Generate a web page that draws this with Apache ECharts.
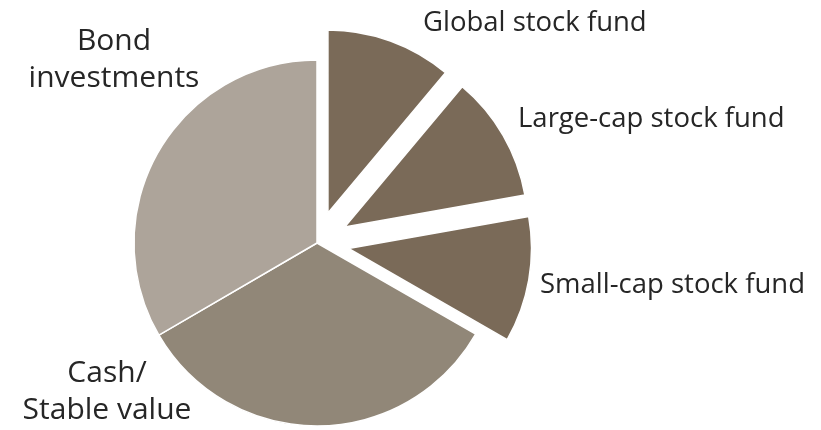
<!DOCTYPE html>
<html>
<head>
<meta charset="utf-8">
<script src="https://cdn.jsdelivr.net/npm/echarts@6/dist/echarts.min.js"></script>
<style>
  html, body { margin: 0; padding: 0; background: #fff; }
  #chart { width: 821px; height: 430px; }
</style>
</head>
<body>
<div id="chart"></div>
<script>
// Portfolio allocation (share of total, %)
const categories = [
  'Global stock fund',
  'Large-cap stock fund',
  'Small-cap stock fund',
  'Cash/\nStable value',
  'Bond\ninvestments'
];
const shares = [11.1, 11.1, 11.1, 33.3, 33.4];
const exploded = [true, true, true, false, false];

const sliceColors = ['#7a6a58', '#7a6a58', '#7a6a58', '#918778', '#ada49a'];

// Label anchor per slice: [x, y, align, font size]
const labelSpots = [
  [423, 23, 'left', 27.5],
  [518, 119, 'left', 27.5],
  [540, 285, 'left', 27.5],
  [107, 392, 'center', 30],
  [114, 60, 'center', 30]
];

const chart = echarts.init(document.getElementById('chart'), null, { renderer: 'canvas' });

const pieCenter = [317, 243];
const pieRadius = 183;

// Visible slices, with the stock funds pulled out
const sliceData = categories.map((name, i) => ({
  name: name,
  value: shares[i],
  selected: exploded[i],
  itemStyle: { color: sliceColors[i] },
  select: { itemStyle: { color: sliceColors[i] } }
}));

// Same values on a transparent layer that carries the text labels
const labelData = categories.map((name, i) => ({
  name: name,
  value: shares[i],
  label: {
    fontSize: labelSpots[i][3],
    align: labelSpots[i][2],
    lineHeight: Math.round(labelSpots[i][3] * 1.22)
  }
}));

chart.setOption({
  animation: false,
  series: [{
    type: 'pie',
    center: pieCenter,
    radius: pieRadius,
    startAngle: 90,
    clockwise: true,
    selectedMode: 'multiple',
    selectedOffset: 32,
    emphasis: { disabled: true },
    itemStyle: { borderColor: '#ffffff', borderWidth: 1.5 },
    label: { show: false },
    labelLine: { show: false },
    data: sliceData
  }, {
    type: 'pie',
    center: pieCenter,
    radius: pieRadius,
    startAngle: 90,
    clockwise: true,
    silent: true,
    selectedMode: false,
    avoidLabelOverlap: false,
    emphasis: { disabled: true },
    itemStyle: { color: 'rgba(0,0,0,0)' },
    label: {
      show: true,
      position: 'outside',
      color: '#262626',
      fontFamily: 'Open Sans',
      overflow: 'none',
      formatter: '{b}'
    },
    labelLine: { show: false },
    labelLayout: function (params) {
      const s = labelSpots[params.dataIndex];
      return { x: s[0], y: s[1], align: s[2], verticalAlign: 'middle', hideOverlap: false, moveOverlap: false };
    },
    data: labelData
  }]
});
</script>
</body>
</html>
